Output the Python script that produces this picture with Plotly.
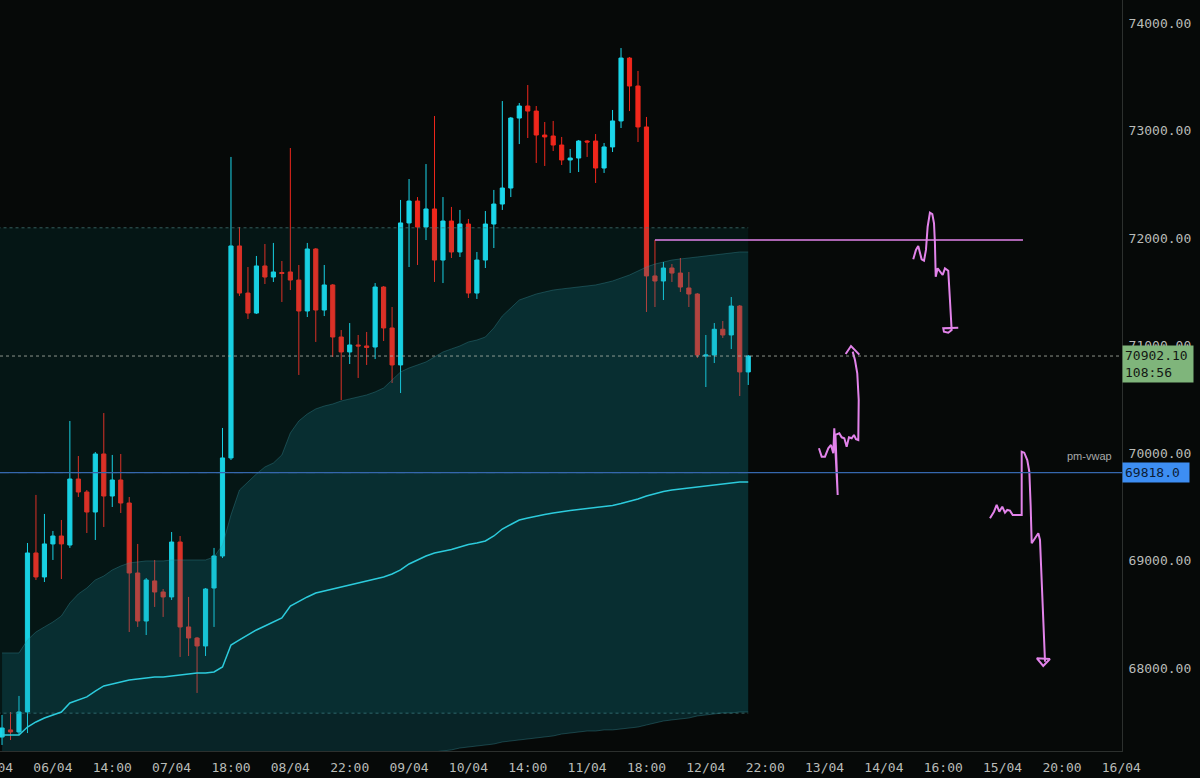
import plotly.graph_objects as go

# --- candles (2h bars, oldest first) ---
opens = [67358, 67424, 67405, 67591, 69070, 68847, 69154, 69228, 69144, 69758,
         69637, 69451, 69991, 69600, 69749, 69535, 68884, 68437, 68810, 68707,
         68661, 69172, 68382, 68279, 68205, 68744, 69042, 69954, 71926, 71488,
         71302, 71740, 71637, 71679, 71684, 71609, 71321, 71898, 71330, 71563,
         71079, 70940, 71005, 70996, 70986, 71544, 71163, 70819, 72140, 72344,
         72102, 72270, 71795, 72158, 71870, 72130, 71488, 71795, 72130, 72316,
         72465, 73116, 73228, 73181, 72958, 72949, 72865, 72726, 72744, 72902,
         72902, 72651, 72847, 73089, 73674, 73414, 73033, 71647, 71600, 71721,
         71674, 71535, 71479, 70902, 70912, 71151, 71098, 71367, 70754]
highs = [67563, 67591, 67740, 69163, 69610, 69433, 69275, 69377, 70298, 69972,
         69656, 70009, 70372, 69982, 69991, 69591, 69154, 68837, 69005, 68735,
         69265, 69228, 68661, 68289, 68744, 69117, 70233, 72754, 72102, 71730,
         71833, 71944, 71954, 71786, 72837, 71749, 71954, 71907, 71749, 71572,
         71144, 71209, 71098, 71126, 71581, 71553, 71358, 72354, 72549, 72381,
         72688, 73135, 72381, 72289, 72261, 72177, 71870, 72251, 72447, 73274,
         73126, 73256, 73423, 73228, 73079, 73089, 72940, 72828, 72912, 72912,
         72967, 72884, 73191, 73767, 73684, 73554, 73126, 71981, 71777, 71758,
         71814, 71684, 71488, 71098, 71209, 71228, 71451, 71377, 70912]
lows = [67284, 67330, 67377, 67395, 68819, 68800, 69005, 68828, 69117, 69591,
        69256, 69191, 69312, 69498, 69442, 68335, 68382, 68307, 68568, 68475,
        68633, 68103, 68112, 67768, 68112, 68382, 69023, 69935, 71461, 71247,
        71293, 71572, 71591, 71405, 71516, 70726, 71265, 71033, 71274, 70893,
        70493, 70828, 70698, 70819, 70874, 71042, 70651, 70558, 71730, 71749,
        71981, 71591, 71581, 71814, 71823, 71442, 71433, 71721, 71907, 72261,
        72381, 72874, 72930, 72698, 72670, 72809, 72679, 72605, 72614, 72754,
        72512, 72605, 72800, 73023, 73181, 72893, 71312, 71358, 71423, 71591,
        71498, 71358, 70884, 70614, 70837, 71070, 70967, 70530, 70633]
closes = [67442, 67405, 67591, 69070, 68847, 69154, 69228, 69154, 69758, 69637,
          69451, 69991, 69600, 69749, 69535, 68884, 68437, 68819, 68707, 68661,
          69172, 68382, 68279, 68205, 68735, 69042, 69954, 71926, 71488, 71302,
          71740, 71637, 71684, 71670, 71609, 71321, 71898, 71330, 71563, 71079,
          70940, 71005, 70996, 70982, 71544, 71163, 70819, 72140, 72344, 72102,
          72270, 71795, 72158, 71870, 72130, 71488, 71795, 72130, 72316, 72465,
          73116, 73228, 73181, 72958, 72940, 72865, 72726, 72744, 72902, 72893,
          72651, 72847, 73089, 73674, 73414, 73033, 71647, 71600, 71721, 71674,
          71544, 71479, 70912, 70912, 71151, 71098, 71367, 70754, 70902.1]

# --- anchored vwap and its bands ---
vwap_mid = [67377, 67377, 67377, 67451, 67498, 67535, 67563, 67591, 67675, 67703,
            67731, 67786, 67833, 67851, 67870, 67889, 67898, 67907, 67917, 67917,
            67926, 67935, 67944, 67954, 67954, 67963, 68010, 68214, 68261, 68307,
            68354, 68391, 68428, 68465, 68577, 68623, 68661, 68698, 68716, 68735,
            68754, 68772, 68791, 68809, 68828, 68847, 68875, 68912, 68968, 69005,
            69042, 69070, 69084, 69103, 69126, 69149, 69163, 69182, 69228, 69293,
            69335, 69377, 69396, 69414, 69428, 69442, 69456, 69465, 69475, 69484,
            69489, 69503, 69512, 69530, 69549, 69572, 69600, 69624, 69642, 69656,
            69665, 69675, 69689, 69698, 69707, 69717, 69721, 69730, 69730]
band_upper = [68140, 68140, 68140, 68261, 68335, 68382, 68428, 68484, 68605, 68689,
              68744, 68819, 68856, 68912, 68949, 68977, 68986, 68996, 68996, 68996,
              69005, 69005, 69005, 69005, 69005, 69033, 69144, 69424, 69656, 69730,
              69805, 69870, 69907, 69982, 70186, 70298, 70363, 70410, 70437, 70456,
              70484, 70503, 70521, 70540, 70568, 70605, 70679, 70754, 70791, 70819,
              70847, 70893, 70940, 70968, 70996, 71033, 71051, 71079, 71163, 71275,
              71349, 71423, 71451, 71479, 71498, 71516, 71526, 71535, 71544, 71554,
              71563, 71581, 71600, 71628, 71656, 71693, 71730, 71758, 71777, 71795,
              71805, 71814, 71823, 71833, 71842, 71851, 71861, 71870, 71870]
band_lower = [66614, 66614, 66614, 66641, 66661, 66688, 66698, 66698, 66745, 66717,
              66718, 66753, 66810, 66790, 66791, 66801, 66810, 66818, 66838, 66838,
              66847, 66865, 66883, 66903, 66903, 66893, 66876, 66904, 66866, 66884,
              66903, 66912, 66949, 66948, 66968, 66948, 66959, 66986, 66995, 67014,
              67024, 67041, 67061, 67078, 67088, 67089, 67100, 67120, 67145, 67191,
              67210, 67220, 67228, 67238, 67256, 67265, 67275, 67284, 67293, 67312,
              67321, 67331, 67340, 67349, 67358, 67368, 67386, 67396, 67405, 67414,
              67414, 67424, 67424, 67433, 67442, 67451, 67470, 67489, 67507, 67517,
              67526, 67535, 67554, 67563, 67572, 67582, 67582, 67591, 67591]

# range box
box_high = 72095
box_low = 67580

last_price = 70902.10
bar_timer = "108:56"
pm_vwap = 69818.0

# pink target line
target_level = 71982
target_from, target_to = 77.0, 120.4

# x labels, one every 7 bars starting at bar 6
tick_labels = ["06/04", "14:00", "07/04", "18:00", "08/04", "22:00", "09/04", "10/04",
               "14:00", "11/04", "18:00", "12/04", "22:00", "13/04", "14/04", "16:00",
               "15/04", "20:00", "16/04"]
price_ticks = [68000, 69000, 70000, 71000, 72000, 73000, 74000]

# hand drawn scenarios (bar units, price)
sketch_b_x = [96.34, 96.66, 97.05, 97.44, 97.76, 98.03, 98.15, 98.55, 98.29, 98.74, 99.02,
              99.33, 99.61, 99.88, 100.20, 100.47, 100.71, 100.98, 101.03, 100.86, 100.59, 100.32]
sketch_b_y = [70044, 69966, 69966, 70044, 70075, 69997, 70230, 69610, 70168, 70183, 70146,
              70137, 70059, 70146, 70137, 70168, 70128, 70121, 70493, 70742, 70865, 70943]
arrow_b_x = [99.49, 100.12, 101.10]
arrow_b_y = [70921, 70995, 70915]
sketch_c_x = [107.46, 107.78, 108.05, 108.25, 108.45, 108.73, 108.96, 109.16, 109.43, 109.71,
              109.91, 110.02, 110.11, 110.34, 110.61, 110.93, 111.20, 111.59, 111.79, 111.99,
              111.59, 111.08, 111.00, 112.77]
sketch_c_y = [71802, 71889, 71926, 71858, 71802, 71789, 71889, 72105, 72236, 72223,
              72137, 71951, 71640, 71718, 71687, 71656, 71718, 71696, 71423, 71144,
              71119, 71128, 71160, 71166]
sketch_d_x = [116.51, 116.98, 117.30, 117.61, 117.96, 118.28, 118.55, 118.87, 119.19, 120.25,
              120.25, 120.55, 120.91, 121.15, 121.31, 121.43, 121.82, 122.21, 122.41, 122.61,
              122.88, 123.00]
sketch_d_y = [69393, 69454, 69517, 69454, 69501, 69445, 69470, 69464, 69424, 69424,
              70012, 70003, 69935, 69826, 69501, 69160, 69207, 69253, 69191, 68819,
              68384, 68059]
arrow_d_x = [122.02, 123.58, 122.79, 122.02]
arrow_d_y = [68091, 68084, 68019, 68091]

BG = "#060908"
CYAN = "#1bd6ea"
RED = "#f0271c"
PINK = "#e283ea"
MONO = "DejaVu Sans Mono"

bars = list(range(len(opens)))
last_bar = bars[-1]
x_min, x_max = -0.24, 132.08

fig = go.Figure()

fig.add_trace(go.Candlestick(
    x=bars, open=opens, high=highs, low=lows, close=closes,
    increasing=dict(line=dict(color=CYAN, width=1), fillcolor=CYAN),
    decreasing=dict(line=dict(color=RED, width=1), fillcolor=RED),
    whiskerwidth=0, hoverinfo="skip"
))

# range box (tints candles underneath)
fig.add_trace(go.Scatter(
    x=[x_min - 1, last_bar, last_bar, x_min - 1],
    y=[box_high, box_high, box_low, box_low],
    mode="none", fill="toself", fillcolor="rgba(0,150,150,0.09)"
))
fig.add_trace(go.Scatter(
    x=[x_min - 1, last_bar, None, x_min - 1, last_bar],
    y=[box_high, box_high, None, box_low, box_low],
    mode="lines", line=dict(color="rgba(70,120,120,0.75)", width=1, dash="dot")
))

# vwap bands
fig.add_trace(go.Scatter(
    x=bars, y=band_lower, mode="lines",
    line=dict(color="rgba(60,150,160,0.35)", width=1)
))
fig.add_trace(go.Scatter(
    x=bars, y=band_upper, mode="lines", fill="tonexty",
    fillcolor="rgba(20,145,165,0.2)",
    line=dict(color="rgba(60,150,160,0.35)", width=1)
))
fig.add_trace(go.Scatter(
    x=bars, y=vwap_mid, mode="lines",
    line=dict(color="#2ccbdc", width=1.5)
))

# pm-vwap level
fig.add_hline(y=pm_vwap, line=dict(color="#3567ad", width=1.3), layer="above")
fig.add_trace(go.Scatter(
    x=[x_min, last_bar], y=[pm_vwap, pm_vwap], mode="lines",
    line=dict(color="rgba(110,165,230,0.85)", width=1, dash="dash")
))

# last price line
fig.add_hline(y=last_price, line=dict(color="rgba(175,180,170,0.8)", width=1, dash="dot"),
              layer="above")

# pink drawings
fig.add_trace(go.Scatter(
    x=[target_from, target_to], y=[target_level, target_level], mode="lines",
    line=dict(color=PINK, width=1.6)
))
sketch_x, sketch_y = [], []
for xs, ys in [(sketch_b_x, sketch_b_y), (arrow_b_x, arrow_b_y), (sketch_c_x, sketch_c_y),
               (sketch_d_x, sketch_d_y), (arrow_d_x, arrow_d_y)]:
    sketch_x += xs + [None]
    sketch_y += ys + [None]
fig.add_trace(go.Scatter(
    x=sketch_x, y=sketch_y, mode="lines",
    line=dict(color=PINK, width=2)
))

# right-hand labels
fig.add_annotation(
    xref="paper", x=1, xanchor="left", y=last_price, yanchor="middle", yshift=-8,
    text=f"{last_price:.2f}<br>{bar_timer}", showarrow=False, align="left",
    bgcolor="#7fb57b", borderpad=2, width=66,
    font=dict(family=MONO, size=13, color="#141814")
)
fig.add_annotation(
    xref="paper", x=1, xanchor="left", y=pm_vwap, yanchor="middle",
    text=f"{pm_vwap:.1f}", showarrow=False, align="left",
    bgcolor="#3d8ef3", borderpad=2, width=62,
    font=dict(family=MONO, size=13, color="#0c1c36")
)
fig.add_annotation(
    xref="paper", x=1, xanchor="right", xshift=-8, y=pm_vwap, yanchor="middle", yshift=17,
    text="pm-vwap", showarrow=False,
    font=dict(family="Liberation Sans", size=11, color="#a8aaa8")
)
# previous day label, cut off at the left edge
fig.add_annotation(
    xref="paper", x=(6 - 7 - x_min) / (x_max - x_min), xanchor="center",
    yref="paper", y=0, yanchor="top", yshift=-7,
    text="05/04", showarrow=False,
    font=dict(family=MONO, size=13, color="#b9bcb8")
)

fig.update_layout(
    width=1200, height=778,
    margin=dict(l=0, r=78, t=0, b=27, autoexpand=False),
    paper_bgcolor=BG, plot_bgcolor=BG,
    showlegend=False,
    hovermode=False,
    xaxis=dict(
        range=[x_min, x_max], rangeslider=dict(visible=False),
        tickvals=[6 + 7 * k for k in range(len(tick_labels))], ticktext=tick_labels,
        showgrid=False, zeroline=False, showline=True, linecolor="#2c302e", linewidth=1,
        ticks="outside", ticklen=4, tickcolor=BG,
        tickfont=dict(family=MONO, size=13, color="#b9bcb8")
    ),
    yaxis=dict(
        side="right", range=[67228, 74214],
        tickvals=price_ticks, ticktext=[f"{p:.2f}" for p in price_ticks],
        showgrid=False, zeroline=False, showline=True, linecolor="#2c302e", linewidth=1,
        ticks="outside", ticklen=3, tickcolor=BG,
        tickfont=dict(family=MONO, size=13, color="#b9bcb8")
    ),
)

fig.write_html("out.html", config={"displayModeBar": False},
               post_script="document.body.style.margin = '0px';")
